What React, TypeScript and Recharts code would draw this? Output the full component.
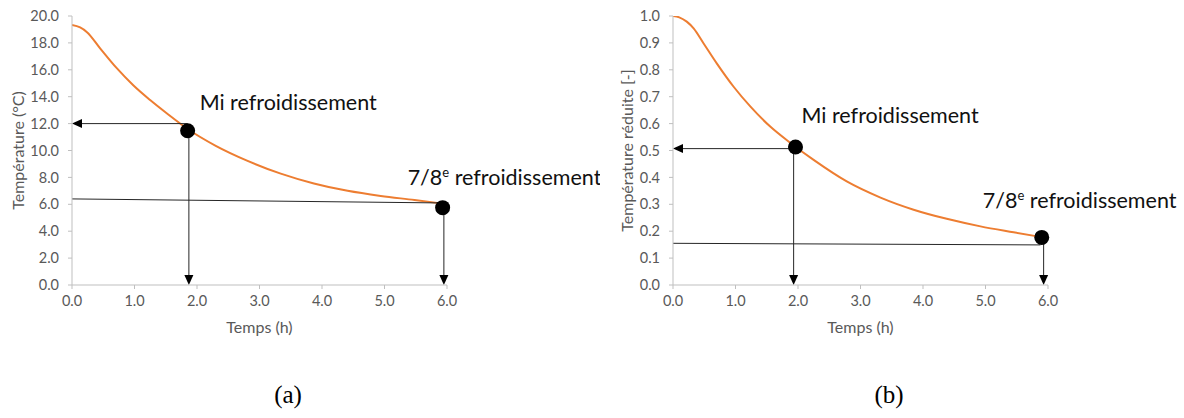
import React from 'react';
import { LineChart, Line, XAxis, YAxis, ReferenceLine, ReferenceDot } from 'recharts';

// ---- Data (a) ----
const timeA = [0, 0.13, 0.24, 0.45, 0.72, 0.98, 1.25, 1.52, 1.85, 2.3, 2.8, 3.34, 3.87, 4.41, 4.94, 5.48, 5.93];
const tempA = [19.33, 19.15, 18.8, 17.6, 16.1, 14.85, 13.75, 12.75, 11.6, 10.35, 9.25, 8.28, 7.55, 7.0, 6.62, 6.32, 6.05];
const yTicksA = [0, 2, 4, 6, 8, 10, 12, 14, 16, 18, 20];

// ---- Data (b) ----
const timeB = [0, 0.1, 0.22, 0.33, 0.49, 0.7, 0.97, 1.24, 1.56, 1.88, 2.25, 2.78, 3.32, 3.85, 4.38, 4.92, 5.45, 5.9];
const reducedB = [1.0, 0.995, 0.979, 0.954, 0.898, 0.824, 0.737, 0.663, 0.588, 0.528, 0.465, 0.385, 0.325, 0.28, 0.246, 0.218, 0.196, 0.178];
const yTicksB = [0, 0.1, 0.2, 0.3, 0.4, 0.5, 0.6, 0.7, 0.8, 0.9, 1.0];

const xTicks = [0, 1, 2, 3, 4, 5, 6];

// key points: [x, y]
const midA = [1.85, 11.47];
const endA = [5.93, 5.75];
const midB = [1.96, 0.513];
const endB = [5.9, 0.177];

// segments: [x1, y1, x2, y2, arrowHead]
const segmentsA: [number, number, number, number, boolean][] = [
  [1.85, 12.0, 0, 12.0, true],
  [1.87, 11.47, 1.87, 0, true],
  [0, 6.4, 5.93, 6.1, false],
  [5.95, 5.75, 5.95, 0, true],
];
const segmentsB: [number, number, number, number, boolean][] = [
  [1.93, 0.507, 0, 0.507, true],
  [1.93, 0.51, 1.93, 0, true],
  [0, 0.155, 5.88, 0.149, false],
  [5.93, 0.177, 5.93, 0, true],
];

const labelMid = 'Mi refroidissement';
const labelEnd = ' refroidissement';
const labelEndPrefix = '7/8';
const labelSup = 'e';

const FONT = 'Lato, "Open Sans", sans-serif';
const GRAY = '#595959';
const AXIS = '#bfbfbf';

const arrowShape = (head: boolean) => (p: any) => {
  const { x1, y1, x2, y2 } = p;
  const dx = x2 - x1;
  const dy = y2 - y1;
  const len = Math.hypot(dx, dy) || 1;
  const ux = dx / len;
  const uy = dy / len;
  const L = 10;
  const W = 4.5;
  const bx = x2 - ux * L;
  const by = y2 - uy * L;
  const pts = `${x2},${y2} ${bx - uy * W},${by + ux * W} ${bx + uy * W},${by - ux * W}`;
  return (
    <g>
      <line x1={x1} y1={y1} x2={head ? bx : x2} y2={head ? by : y2} stroke="#262626" strokeWidth={1} />
      {head && <polygon points={pts} fill="#000" />}
    </g>
  );
};

const annot = (dx: number, dy: number, sup: boolean) => (props: any) => {
  const vb = props.viewBox || {};
  const cx = (vb.x ?? 0) + (vb.width ?? 0) / 2;
  const cy = (vb.y ?? 0) + (vb.height ?? 0) / 2;
  return (
    <text x={cx + dx} y={cy + dy} fontFamily={FONT} fontSize={21.5} fill="#111">
      {sup ? (
        <>
          <tspan>{labelEndPrefix}</tspan>
          <tspan dy={-8} fontSize={13}>{labelSup}</tspan>
          <tspan dy={8}>{labelEnd}</tspan>
        </>
      ) : (
        labelMid
      )}
    </text>
  );
};

type PanelProps = {
  times: number[];
  values: number[];
  yTicks: number[];
  yMax: number;
  yLabel: string;
  segments: [number, number, number, number, boolean][];
  mid: number[];
  end: number[];
  width: number;
  yAxisWidth: number;
  yLabelDx: number;
  midOffset: [number, number];
  endOffset: [number, number];
};

function Panel(p: PanelProps) {
  const data = p.times.map((t, i) => ({ t, v: p.values[i] }));
  const plotW = 375;
  return (
    <LineChart
      width={p.width}
      height={345}
      data={data}
      margin={{ top: 16, right: p.width - p.yAxisWidth - plotW, bottom: 0, left: 0 }}
      style={{ fontFamily: FONT }}
    >
      <XAxis
        type="number"
        dataKey="t"
        domain={[0, 6]}
        ticks={xTicks}
        tickFormatter={(v: number) => v.toFixed(1)}
        stroke={AXIS}
        tick={{ fill: GRAY, fontSize: 14.5 }}
        tickSize={4}
        tickMargin={7}
        height={60}
        allowDataOverflow
        label={{ value: 'Temps (h)', position: 'center', dy: 12, fill: GRAY, fontSize: 16 }}
      />
      <YAxis
        type="number"
        domain={[0, p.yMax]}
        ticks={p.yTicks}
        tickFormatter={(v: number) => v.toFixed(1)}
        stroke={AXIS}
        tick={{ fill: GRAY, fontSize: 14.5 }}
        tickSize={4}
        tickMargin={9}
        width={p.yAxisWidth}
        allowDataOverflow
        label={{ value: p.yLabel, angle: -90, position: 'center', dx: p.yLabelDx, fill: GRAY, fontSize: 16 }}
      />
      <Line
        type="monotone"
        dataKey="v"
        stroke="#ed7d31"
        strokeWidth={2}
        dot={false}
        isAnimationActive={false}
      />
      {p.segments.map((s, i) => (
        <ReferenceLine
          key={i}
          segment={[{ x: s[0], y: s[1] }, { x: s[2], y: s[3] }]}
          ifOverflow="visible"
          shape={arrowShape(s[4])}
        />
      ))}
      <ReferenceDot
        x={p.mid[0]}
        y={p.mid[1]}
        r={7.5}
        fill="#000"
        stroke="none"
        ifOverflow="visible"
        label={annot(p.midOffset[0], p.midOffset[1], false)}
      />
      <ReferenceDot
        x={p.end[0]}
        y={p.end[1]}
        r={7.5}
        fill="#000"
        stroke="none"
        ifOverflow="visible"
        label={annot(p.endOffset[0], p.endOffset[1], true)}
      />
    </LineChart>
  );
}

const captionStyle: React.CSSProperties = {
  position: 'absolute',
  width: 100,
  textAlign: 'center',
  fontFamily: '"Liberation Serif", "Times New Roman", serif',
  fontSize: 25,
  lineHeight: '26px',
  top: 382,
};

export default function App() {
  return (
    <div style={{ position: 'absolute', left: 0, top: 0, width: 1184, height: 418, background: '#fff', overflow: 'hidden' }}>
      <div style={{ position: 'absolute', left: 0, top: 0 }}>
        <Panel
          times={timeA}
          values={tempA}
          yTicks={yTicksA}
          yMax={20}
          yLabel="Température (°C)"
          segments={segmentsA}
          mid={midA}
          end={endA}
          width={600}
          yAxisWidth={72}
          yLabelDx={-18}
          midOffset={[12, -21]}
          endOffset={[-35, -23]}
        />
      </div>
      <div style={{ position: 'absolute', left: 600, top: 0 }}>
        <Panel
          times={timeB}
          values={reducedB}
          yTicks={yTicksB}
          yMax={1}
          yLabel="Température réduite [-]"
          segments={segmentsB}
          mid={midB}
          end={endB}
          width={584}
          yAxisWidth={73}
          yLabelDx={-9}
          midOffset={[6, -24]}
          endOffset={[-59, -29]}
        />
      </div>
      <div style={{ ...captionStyle, left: 238 }}>(a)</div>
      <div style={{ ...captionStyle, left: 839 }}>(b)</div>
    </div>
  );
}
